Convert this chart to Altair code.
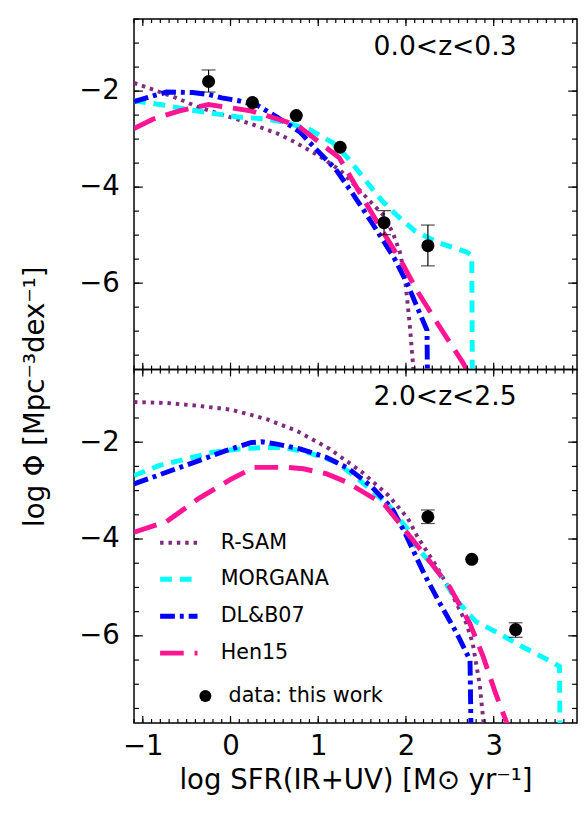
import altair as alt
import pandas as pd
import numpy as np

FONT = "DejaVu Sans"
X_DOMAIN = [-1.1, 3.95]
Y_DOMAIN = [-7.8, -0.5]
X_LABELS = [-1, 0, 1, 2, 3]
Y_LABELS = [-6, -4, -2]
X_MINOR = [round(v, 1) for v in np.arange(-1.1, 3.95, 0.1)]
Y_MINOR = [round(v, 1) for v in np.arange(-7.5, -0.4, 0.5)]
X_TITLE = "log  SFR(IR+UV)  [M\u2299 yr\u207b\u00b9]"
Y_TITLE = "log \u03a6 [Mpc\u207b\u00b3dex\u207b\u00b9]"

MODELS = ["R-SAM", "MORGANA", "DL&B07", "Hen15"]
MODEL_COLORS = ["#7E2A80", "#00FFFF", "#0000FF", "#FF1493"]
MODEL_DASHES = [[3.5, 5], [12, 8], [15, 5, 4, 5], [24, 11]]
MODEL_WIDTHS = [4, 5, 5, 5]
DATA_LABEL = "data: this work"

# ---------- top panel: 0.0<z<0.3 ----------
T_LABEL = "0.0<z<0.3"
T_RSAM_X = [-1.10, -0.88, -0.62, -0.36, -0.06, 0.23, 0.53, 0.72, 1.02, 1.25, 1.50, 1.75, 1.85, 1.93, 1.98, 2.00, 2.04, 2.09]
T_RSAM_Y = [-1.83, -1.97, -2.14, -2.34, -2.51, -2.68, -2.88, -3.05, -3.36, -3.65, -4.12, -4.60, -4.95, -5.35, -5.80, -6.10, -6.80, -7.90]
T_MORG_X = [-1.10, -0.77, -0.47, -0.18, 0.09, 0.40, 0.65, 0.91, 1.17, 1.35, 1.54, 1.72, 1.91, 2.10, 2.36, 2.69, 2.75, 2.76]
T_MORG_Y = [-2.20, -2.29, -2.39, -2.47, -2.54, -2.58, -2.66, -2.81, -3.08, -3.42, -3.86, -4.27, -4.61, -4.91, -5.15, -5.35, -5.42, -9.0]
T_DLB_X = [-1.10, -0.92, -0.73, -0.43, -0.25, -0.10, 0.09, 0.31, 0.53, 0.79, 0.98, 1.20, 1.39, 1.54, 1.72, 1.87, 2.02, 2.13, 2.24, 2.25]
T_DLB_Y = [-2.22, -2.12, -2.02, -2.03, -2.07, -2.14, -2.20, -2.30, -2.54, -2.85, -3.22, -3.63, -4.13, -4.54, -5.05, -5.49, -6.03, -6.51, -6.98, -9.0]
T_HEN_X = [-1.10, -0.88, -0.58, -0.25, -0.03, 0.23, 0.53, 0.76, 0.98, 1.24, 1.35, 1.50, 1.72, 1.95, 2.13, 2.36, 2.65, 2.72]
T_HEN_Y = [-2.78, -2.58, -2.41, -2.28, -2.34, -2.41, -2.58, -2.71, -3.02, -3.39, -3.73, -4.20, -4.88, -5.56, -6.17, -6.84, -7.66, -7.90]
T_PT_X = [-0.25, 0.25, 0.75, 1.25, 1.75, 2.25]
T_PT_Y = [-1.80, -2.24, -2.51, -3.17, -4.74, -5.22]
T_ERR_HI = [-1.56, None, None, None, -4.49, -4.79]
T_ERR_LO = [-2.02, None, None, None, -4.99, -5.64]

# ---------- bottom panel: 2.0<z<2.5 ----------
B_LABEL = "2.0<z<2.5"
B_RSAM_X = [-1.10, -0.73, -0.36, 0.01, 0.20, 0.42, 0.76, 1.13, 1.50, 1.80, 2.02, 2.13, 2.36, 2.50, 2.69, 2.76, 2.84, 2.89]
B_RSAM_Y = [-1.17, -1.19, -1.25, -1.33, -1.42, -1.53, -1.77, -2.14, -2.62, -3.10, -3.57, -3.95, -4.60, -5.05, -5.75, -6.15, -7.00, -7.90]
B_MORG_X = [-1.10, -0.81, -0.51, -0.21, 0.09, 0.38, 0.61, 0.90, 1.20, 1.43, 1.80, 2.02, 2.10, 2.36, 2.58, 2.80, 3.06, 3.32, 3.58, 3.75, 3.76]
B_MORG_Y = [-2.69, -2.48, -2.35, -2.21, -2.14, -2.11, -2.11, -2.22, -2.41, -2.72, -3.30, -3.80, -4.12, -4.66, -5.27, -5.71, -5.95, -6.22, -6.46, -6.63, -9.0]
B_DLB_X = [-1.10, -0.88, -0.62, -0.36, -0.06, 0.23, 0.35, 0.53, 0.79, 1.09, 1.35, 1.61, 1.84, 1.98, 2.21, 2.39, 2.58, 2.73, 2.75]
B_DLB_Y = [-2.86, -2.72, -2.55, -2.38, -2.18, -2.01, -1.99, -2.04, -2.14, -2.31, -2.55, -2.92, -3.37, -3.84, -4.73, -5.34, -5.95, -6.50, -9.0]
B_HEN_X = [-1.10, -0.73, -0.36, 0.01, 0.27, 0.42, 0.65, 0.83, 1.09, 1.32, 1.54, 1.76, 1.91, 2.06, 2.21, 2.50, 2.73, 2.88, 3.02, 3.16]
B_HEN_Y = [-3.86, -3.64, -3.16, -2.76, -2.52, -2.52, -2.52, -2.55, -2.65, -2.82, -3.06, -3.30, -3.64, -3.98, -4.32, -5.00, -5.75, -6.43, -7.18, -7.85]
B_PT_X = [2.25, 2.75, 3.25]
B_PT_Y = [-3.54, -4.42, -5.87]
B_ERR_HI = [-3.40, None, -5.73]
B_ERR_LO = [-3.68, None, -6.03]

W = 450
H_TOP = 356
H_BOT = 359


def lines_frame(curves):
    rows = []
    for model, (xs, ys) in curves.items():
        for i, (x, y) in enumerate(zip(xs, ys)):
            rows.append({"model": model, "x": x, "y": y, "i": i})
    return pd.DataFrame(rows)


def make_panel(curves, px, py, ehi, elo, zlabel, height, bottom):
    xs = alt.Scale(domain=X_DOMAIN, nice=False, zero=False)
    ys = alt.Scale(domain=Y_DOMAIN, nice=False, zero=False)
    if bottom:
        xaxis = alt.Axis(values=X_LABELS, format="d", ticks=False, tickSize=0, domain=False,
                         grid=False, labelPadding=2, offset=8, titlePadding=7)
        xtitle = X_TITLE
        yaxis = alt.Axis(values=Y_LABELS, format="d", ticks=False, tickSize=0, domain=False,
                         grid=False, labelPadding=15, titleY=27, titlePadding=30)
        ytitle = Y_TITLE
        line_legend = alt.Legend(orient="none", legendX=24, legendY=155, title=None,
                                 symbolType="stroke", symbolSize=1444, symbolStrokeWidth=5,
                                 labelFontSize=21, labelFont=FONT, labelOffset=21,
                                 rowPadding=5.5, padding=0, labelLimit=0, labelColor="black")
        pt_legend = alt.Legend(orient="none", legendX=62, legendY=321, title=None,
                               symbolSize=150, symbolFillColor="black", symbolStrokeColor="black",
                               labelFontSize=21, labelFont=FONT, labelOffset=13, padding=0,
                               labelLimit=0, labelColor="black")
    else:
        xaxis = None
        xtitle = None
        yaxis = alt.Axis(values=Y_LABELS, format="d", ticks=False, tickSize=0, domain=False,
                         grid=False, labelPadding=15)
        ytitle = None
        line_legend = None
        pt_legend = None

    def X(field):
        return alt.X(field, scale=xs, axis=xaxis, title=xtitle)

    def Y(field):
        return alt.Y(field, scale=ys, axis=yaxis, title=ytitle)

    ldf = lines_frame(curves)
    lines = alt.Chart(ldf).mark_line(clip=True, strokeCap="butt").encode(
        x=X("x:Q"),
        y=Y("y:Q"),
        color=alt.Color("model:N", scale=alt.Scale(domain=MODELS, range=MODEL_COLORS), legend=line_legend),
        strokeDash=alt.StrokeDash("model:N", scale=alt.Scale(domain=MODELS, range=MODEL_DASHES), legend=line_legend),
        strokeWidth=alt.StrokeWidth("model:N", scale=alt.Scale(type="ordinal", domain=MODELS, range=MODEL_WIDTHS), legend=None),
        order=alt.Order("i:Q"),
    )

    edf = pd.DataFrame([{"x": x, "hi": h, "lo": l} for x, h, l in zip(px, ehi, elo) if h is not None])
    err = alt.Chart(edf).mark_rule(color="black", strokeWidth=1.2).encode(
        x=X("x:Q"), y=Y("hi:Q"), y2="lo:Q")
    cap_hi = alt.Chart(edf).mark_tick(color="black", orient="horizontal", size=14, thickness=1.2).encode(
        x=X("x:Q"), y=Y("hi:Q"))
    cap_lo = alt.Chart(edf).mark_tick(color="black", orient="horizontal", size=14, thickness=1.2).encode(
        x=X("x:Q"), y=Y("lo:Q"))

    pdf = pd.DataFrame({"x": px, "y": py, "lab": DATA_LABEL})
    points = alt.Chart(pdf).mark_point(filled=True, size=175, color="black", opacity=1).encode(
        x=X("x:Q"),
        y=Y("y:Q"),
        shape=alt.Shape("lab:N", scale=alt.Scale(domain=[DATA_LABEL], range=["circle"]), legend=pt_legend),
    )

    tick_layers = []
    for vals, ln in ((X_LABELS, 7), (X_MINOR, 4)):
        d = pd.DataFrame({"t": vals})
        tick_layers.append(alt.Chart(d).mark_rule(color="black", strokeWidth=1.2).encode(
            x=X("t:Q"), y=alt.value(0), y2=alt.value(ln)))
        tick_layers.append(alt.Chart(d).mark_rule(color="black", strokeWidth=1.2).encode(
            x=X("t:Q"), y=alt.value(height), y2=alt.value(height - ln)))
    for vals, ln in ((Y_LABELS, 9), (Y_MINOR, 5)):
        d = pd.DataFrame({"t": vals})
        tick_layers.append(alt.Chart(d).mark_rule(color="black", strokeWidth=1.2).encode(
            y=Y("t:Q"), x=alt.value(0), x2=alt.value(ln)))
        tick_layers.append(alt.Chart(d).mark_rule(color="black", strokeWidth=1.2).encode(
            y=Y("t:Q"), x=alt.value(W), x2=alt.value(W - ln)))

    label = alt.Chart(pd.DataFrame({"t": [zlabel]})).mark_text(
        font=FONT, fontSize=27, align="center", baseline="alphabetic", color="black"
    ).encode(text="t:N", x=alt.value(316), y=alt.value(36))

    return alt.layer(lines, err, cap_hi, cap_lo, points, *tick_layers, label).properties(
        width=W, height=height)


top = make_panel(
    {"R-SAM": (T_RSAM_X, T_RSAM_Y), "MORGANA": (T_MORG_X, T_MORG_Y),
     "DL&B07": (T_DLB_X, T_DLB_Y), "Hen15": (T_HEN_X, T_HEN_Y)},
    T_PT_X, T_PT_Y, T_ERR_HI, T_ERR_LO, T_LABEL, H_TOP, False)
bot = make_panel(
    {"R-SAM": (B_RSAM_X, B_RSAM_Y), "MORGANA": (B_MORG_X, B_MORG_Y),
     "DL&B07": (B_DLB_X, B_DLB_Y), "Hen15": (B_HEN_X, B_HEN_Y)},
    B_PT_X, B_PT_Y, B_ERR_HI, B_ERR_LO, B_LABEL, H_BOT, True)

chart = alt.vconcat(top, bot, spacing=0).properties(
    bounds="flush", background="white",
    padding={"left": 12, "top": 3, "right": 0, "bottom": 0}
).resolve_scale(
    x="independent", y="independent", color="independent", strokeDash="independent",
    shape="independent", strokeWidth="independent"
).configure_view(
    stroke="black", strokeWidth=1.5
).configure_axis(
    labelFont=FONT, titleFont=FONT, labelFontSize=28, titleFontSize=28,
    labelColor="black", titleColor="black", titleFontWeight="normal"
)

chart.save("out.html", embed_options={"renderer": "svg", "actions": False})
